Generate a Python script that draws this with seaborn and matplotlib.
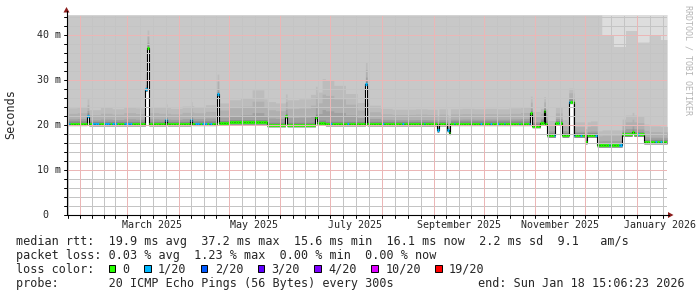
import numpy as np
import pandas as pd
import matplotlib
matplotlib.use("Agg")
import matplotlib.pyplot as plt
import matplotlib.dates as mdates
import matplotlib.transforms as mtrans
from matplotlib.patches import Rectangle, Polygon
from matplotlib.lines import Line2D
import seaborn as sns

# ---------------- data ----------------
start_time = "2025-01-23 15:06:23"
end_time = "2026-01-18 15:06:23"

# median rtt (ms) as a step function: value holds from date until next date
med_dates = ["2025-01-23", "2025-02-05", "2025-02-06", "2025-03-12", "2025-03-13",
             "2025-03-14", "2025-03-24", "2025-03-25", "2025-04-08", "2025-04-09",
             "2025-04-24", "2025-04-25", "2025-05-01", "2025-05-24", "2025-06-04",
             "2025-06-05", "2025-06-22", "2025-06-23", "2025-06-28", "2025-07-22",
             "2025-07-23", "2025-09-03", "2025-09-04", "2025-09-09", "2025-09-10",
             "2025-09-11", "2025-10-29", "2025-10-30", "2025-11-04", "2025-11-06",
             "2025-11-07", "2025-11-08", "2025-11-13", "2025-11-17", "2025-11-21",
             "2025-11-24", "2025-12-01", "2025-12-02", "2025-12-08", "2025-12-23",
             "2025-12-29", "2025-12-30", "2026-01-05"]
med_vals = [20.3, 22.1, 20.2, 27.9, 37.2,
            20.2, 21.0, 20.2, 21.2, 20.3,
            26.8, 20.4, 20.6, 20.0, 22.0,
            20.0, 21.8, 20.5, 20.2, 29.2,
            20.2, 18.8, 20.2, 18.9, 18.3,
            20.3, 22.6, 19.8, 20.5, 23.0,
            20.3, 17.7, 20.4, 17.7, 25.2,
            17.7, 16.2, 17.7, 15.5, 17.9,
            18.5, 17.9, 16.2]

# days whose median carries 1/20 packet loss (all others: 0 loss)
loss_blue_dates = ["2025-01-24", "2025-01-25", "2025-02-05", "2025-02-08", "2025-02-09",
                   "2025-02-10", "2025-02-11", "2025-02-15", "2025-02-16", "2025-02-17",
                   "2025-02-18", "2025-02-20", "2025-02-21", "2025-02-22", "2025-02-27",
                   "2025-02-28", "2025-03-01", "2025-03-02", "2025-03-03", "2025-03-12",
                   "2025-03-24", "2025-04-08", "2025-04-11", "2025-04-12", "2025-04-13",
                   "2025-04-15", "2025-04-16", "2025-04-17", "2025-04-19", "2025-04-20",
                   "2025-04-24", "2025-07-01", "2025-07-11", "2025-07-22", "2025-08-01",
                   "2025-08-13", "2025-08-26", "2025-09-03", "2025-09-09", "2025-09-13",
                   "2025-09-29", "2025-10-05", "2025-10-09", "2025-10-13", "2025-10-22",
                   "2025-10-28", "2025-11-12", "2025-11-15", "2025-11-21", "2025-11-24",
                   "2025-11-28", "2025-12-07", "2025-12-15", "2025-12-21", "2025-12-22",
                   "2026-01-01", "2026-01-12", "2026-01-15"]

# weekly (from 2025-01-23) spread of the dense smoke above the median (ms)
smoke_spread = [3.5, 3.7, 3.2, 3.7, 3.4, 3.9, 3.6, 3.9, 3.7, 3.5,
                4.0, 3.7, 4.2, 4.5, 5.0, 5.5, 7.2, 5.2, 4.9, 5.6,
                5.8, 6.8, 9.8, 8.6, 6.8, 4.8, 4.2, 3.5, 3.3, 3.3,
                3.4, 3.3, 3.4, 3.3, 3.4, 3.3, 3.4, 3.3, 3.5, 3.8,
                3.2, 3.3, 3.5, 3.0, 3.0, 3.2, 3.4, 3.4, 4.3, 4.0,
                3.6, 3.5]
# weekly top of the outer smoke (ms); above the chart top for most weeks
smoke_top = [44.5] * 46 + [40.0, 37.5, 41.0, 38.5, 40.0, 39.0]

y_ticks = [0, 10, 20, 30, 40]
y_tick_labels = ["0", "10 m", "20 m", "30 m", "40 m"]
x_label_dates = ["2025-03-16", "2025-05-16", "2025-07-16", "2025-09-16",
                 "2025-11-16", "2026-01-16"]
x_labels = ["March 2025", "May 2025", "July 2025", "September 2025",
            "November 2025", "January 2026"]

loss_labels = ["0", "1/20", "2/20", "3/20", "4/20", "10/20", "19/20"]
loss_colors = ["#26ff00", "#00b8ff", "#0059ff", "#5e00ff", "#7e00ff", "#dd00ff", "#ff0000"]

line_rtt = "median rtt:  19.9 ms avg  37.2 ms max  15.6 ms min  16.1 ms now  2.2 ms sd  9.1   am/s"
line_loss = "packet loss: 0.03 % avg  1.23 % max  0.00 % min  0.00 % now"
line_probe = "probe:       20 ICMP Echo Pings (56 Bytes) every 300s"
line_end = "end: Sun Jan 18 15:06:23 2026"

# ---------------- figure ----------------
sns.set_style("white")
plt.rcParams["font.family"] = ["DejaVu Sans Mono", "DejaVu Sans"]

W, H = 697, 297
fig = plt.figure(figsize=(W / 100, H / 100), dpi=100)
fig.patch.set_facecolor("white")
ax = fig.add_axes([66.5 / W, 82 / H, 600 / W, 200 / H])
ax.set_facecolor("white")
for s in ax.spines.values():
    s.set_visible(False)

YTOP = 200 / 4.5

days = pd.date_range("2025-01-23", "2026-01-19", freq="D")
med = pd.Series(med_vals, index=pd.to_datetime(med_dates)).reindex(days, method="ffill").to_numpy()
week = np.clip((days - days[0]).days // 7, 0, len(smoke_spread) - 1)
spread = np.asarray(smoke_spread)[week]
top = np.asarray(smoke_top)[week]
blue = set(pd.to_datetime(loss_blue_dates))
seg_colors = [loss_colors[1] if d in blue else loss_colors[0] for d in days]
x = mdates.date2num(days)

# smoke layers
ax.fill_between(x, top, YTOP + 1, step="post", color="#dddddd", lw=0, zorder=1)
ax.fill_between(x, med, top, step="post", color="#c8c8c8", lw=0, zorder=1)
ax.fill_between(x, med - 0.3, med + spread, step="post", color="#bcbcbc", lw=0, zorder=2)
ax.fill_between(x, med - 0.3, med + 0.65 * spread, step="post", color="#b0b0b0", lw=0, zorder=2)
ax.fill_between(x, med - 0.3, med + 0.3 * spread, step="post", color="#a0a0a0", lw=0, zorder=2)
ax.fill_between(x, med - 0.45, med + 0.6, step="post", color="#8a8a8a", lw=0, zorder=2)

# median: thin black step line + loss coloured segments
df = pd.DataFrame({"t": x, "rtt": med})
sns.lineplot(data=df, x="t", y="rtt", ax=ax, color="black", lw=0.8,
             drawstyle="steps-post", estimator=None, sort=False, zorder=3)
ax.hlines(med[:-1], x[:-1], x[1:], colors=seg_colors[:-1], lw=2.2, zorder=4)

t0 = mdates.date2num(pd.Timestamp(start_time))
t1 = mdates.date2num(pd.Timestamp(end_time))
ax.set_xlim(t0, t1)
ax.set_ylim(0, YTOP)
ax.set_xlabel("")
ax.set_ylabel("")
ax.set_xticks([])
ax.set_yticks([])

# grid (crisp 1px dots): major = month starts, minor = month quarters
dot = (0, (1, 1))
minor_c = "#c4c4c4"
major_c = "#ebb6b6"
months = pd.date_range("2025-01-01", "2026-02-01", freq="MS")
minor_x = []
for a, b in zip(months[:-1], months[1:]):
    n = (b - a).days
    for k in (1, 2, 3):
        minor_x.append(mdates.date2num(a) + k * n / 4)
minor_x = [v for v in minor_x if t0 < v < t1]
major_x = [mdates.date2num(m) for m in months if t0 < mdates.date2num(m) < t1]
for v in minor_x:
    ax.axvline(v, color=minor_c, lw=0.72, ls=dot, zorder=5, antialiased=False)
for yv in np.arange(2, YTOP, 2):
    if yv % 10:
        ax.axhline(yv, color=minor_c, lw=0.72, ls=dot, zorder=5, antialiased=False)
for v in major_x:
    ax.axvline(v, color=major_c, lw=0.72, ls=dot, zorder=6, antialiased=False)
for yv in y_ticks[1:]:
    ax.axhline(yv, color=major_c, lw=0.72, ls=dot, zorder=6, antialiased=False)

# axes, ticks and arrows (figure pixel coordinates)
def fx(px):
    return px / W
def fy(py):
    return 1 - py / H

arrow_c = "#8b1c1c"
fig.add_artist(Line2D([fx(66.5), fx(66.5)], [fy(215), fy(11)], color="black", lw=0.8))
fig.add_artist(Line2D([fx(66.5), fx(669)], [fy(215), fy(215)], color="black", lw=0.8))
fig.add_artist(Polygon([[fx(63.5), fy(12.5)], [fx(69.5), fy(12.5)], [fx(66.5), fy(7)]],
                       closed=True, color=arrow_c, lw=0))
fig.add_artist(Polygon([[fx(668), fy(212)], [fx(668), fy(218)], [fx(673.5), fy(215)]],
                       closed=True, color=arrow_c, lw=0))

xt = mtrans.blended_transform_factory(ax.transData, fig.transFigure)
yt = mtrans.blended_transform_factory(fig.transFigure, ax.transData)
for xx in minor_x + major_x:
    fig.add_artist(Line2D([xx, xx], [fy(215), fy(217.5)], transform=xt, color="black", lw=0.7))
for yv in np.arange(0, YTOP, 2):
    fig.add_artist(Line2D([fx(63.5), fx(66.5)], [yv, yv], transform=yt, color="black", lw=0.7))

# tick labels
for d, lab in zip(x_label_dates, x_labels):
    xx = mdates.date2num(pd.Timestamp(d))
    if lab == x_labels[-1]:
        ax.text(1 - 1 / W, fy(228), lab, transform=fig.transFigure, ha="right",
                va="baseline", fontsize=7.2, clip_on=False)
    else:
        ax.text(xx, fy(228), lab, transform=xt, ha="center",
                va="baseline", fontsize=7.2, clip_on=False)
for yv, lab in zip(y_ticks, y_tick_labels):
    xr = 60.5 if yv else 48.5
    fig.text(fx(xr), yv, lab, transform=yt, ha="right", va="center", fontsize=7.2)

fig.text(fx(11), fy(114), "Seconds", rotation=90, ha="center", va="center", fontsize=8.5)
fig.text(fx(688), fy(5), "RRDTOOL / TOBI OETIKER", rotation=270, ha="center", va="top",
         fontsize=6, color="#b4b4b4")

# legend / statistics lines
cw = 7.1
x0 = 16
fs = 8.5
fig.text(fx(x0), fy(245), line_rtt, ha="left", va="baseline", fontsize=fs)
fig.text(fx(x0), fy(259), line_loss, ha="left", va="baseline", fontsize=fs)
fig.text(fx(x0), fy(287), line_probe, ha="left", va="baseline", fontsize=fs)
fig.text(fx(x0 + 65 * cw), fy(287), line_end, ha="left", va="baseline", fontsize=fs)

fig.text(fx(x0), fy(273), "loss color:", ha="left", va="baseline", fontsize=fs)
col = 13
for lab, c in zip(loss_labels, loss_colors):
    cx = x0 + (col + 0.5) * cw
    fig.add_artist(Rectangle((fx(cx - 3.3), fy(272)), 6.6 / W, 7 / H, facecolor=c,
                             edgecolor="black", lw=0.7))
    fig.text(fx(x0 + (col + 2) * cw), fy(273), lab, ha="left", va="baseline", fontsize=fs)
    col += 2 + len(lab) + 2

fig.savefig("out.png", dpi=100, facecolor="white")
